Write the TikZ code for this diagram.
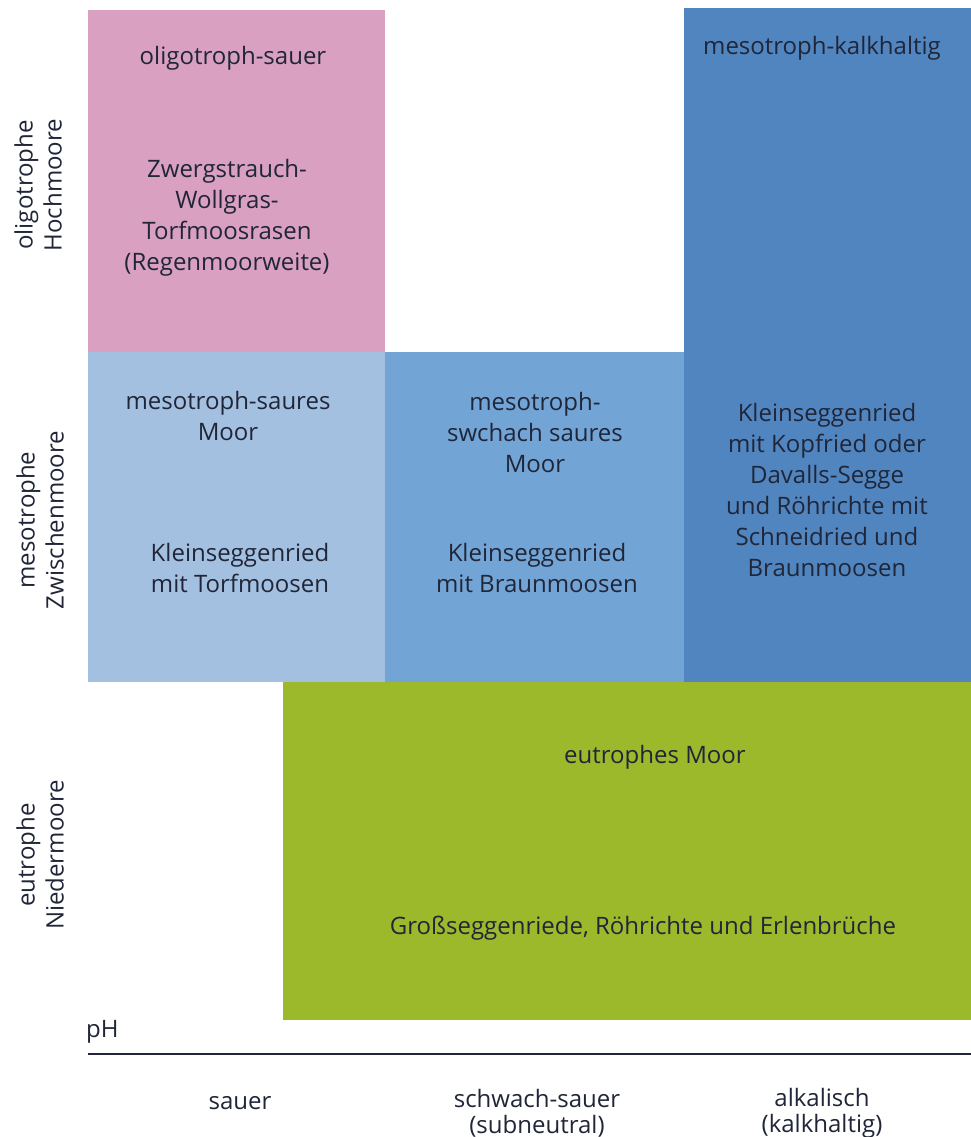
\documentclass[tikz,border=0pt]{standalone}
\usepackage{fontspec}
\setmainfont{Open Sans}
\usepackage{xcolor}
\usetikzlibrary{positioning}
\definecolor{oligopink}{HTML}{D9A0C1}
\definecolor{mesolight}{HTML}{A4C0E1}
\definecolor{mesomid}{HTML}{73A4D6}
\definecolor{mesodark}{HTML}{5185C0}
\definecolor{eugreen}{HTML}{9CB92C}
\definecolor{textdark}{HTML}{202638}
\tikzset{
  boxtext/.style={font=\fontsize{24}{31}\selectfont, text=textdark, align=center, inner sep=0pt},
  sidetext/.style={font=\fontsize{24}{29}\selectfont, text=textdark, align=center, inner sep=0pt, rotate=90},
  phtext/.style={font=\fontsize{24}{26}\selectfont, text=textdark, align=center, inner sep=0pt}
}

\begin{document}
\begin{tikzpicture}[x=1pt, y=-1pt]
    \useasboundingbox (0,0) rectangle (971,1137);

    % Fields
    \fill[oligopink] (88,10) rectangle (385,352);
    \fill[mesolight] (88,352) rectangle (385,682);
    \fill[mesomid] (385,352) rectangle (684,682);
    \fill[mesodark] (684,8) rectangle (971,682);
    \fill[eugreen] (283,682) rectangle (971,1020);

    % Field labels
    \node[boxtext] (oligo) at (233,58) {oligotroph-sauer};
    \node[boxtext] (oligoveg) at (227,218) {Zwergstrauch-\\Wollgras-\\Torfmoosrasen\\(Regenmoorweite)};
    \node[boxtext] (kalk) at (822,48) {mesotroph-kalkhaltig};
    \node[boxtext] (kalkveg) at (827,490) {Kleinseggenried\\mit Kopfried oder\\Davalls-Segge\\und Röhrichte mit\\Schneidried und\\Braunmoosen};
    \node[boxtext] (saures) at (228,416) {mesotroph-saures\\Moor};
    \node[boxtext] (sauresveg) at (240,568) {Kleinseggenried\\mit Torfmoosen};
    \node[boxtext] (schwach) at (535,432) {mesotroph-\\swchach saures\\Moor};
    \node[boxtext] (schwachveg) at (537,568) {Kleinseggenried\\mit Braunmoosen};
    \node[boxtext] (eutroph) at (655,757) {eutrophes Moor};
    \node[boxtext] (eutrophveg) at (643,928) {Großseggenriede, Röhrichte und Erlenbrüche};

    % Side labels
    \node[sidetext] (hoch) at (38,185) {oligotrophe\\Hochmoore};
    \node[sidetext] (zwischen) at (40,520) {mesotrophe\\Zwischenmoore};
    \node[sidetext] (nieder) at (40,855) {eutrophe\\Niedermoore};

    % pH axis
    \coordinate (axisstart) at (88,1054);
    \coordinate (axisend) at (971,1054);
    \draw[line width=2pt, textdark] (axisstart) -- (axisend);
    \node[phtext, anchor=west] (ph) at (86,1032) {pH};
    \node[phtext] (sauer) at (240,1103) {sauer};
    \node[phtext] (schwachsauer) at (537,1113) {schwach-sauer\\(subneutral)};
    \node[phtext] (alkalisch) at (822,1113) {alkalisch\\(kalkhaltig)};
\end{tikzpicture}
\end{document}
